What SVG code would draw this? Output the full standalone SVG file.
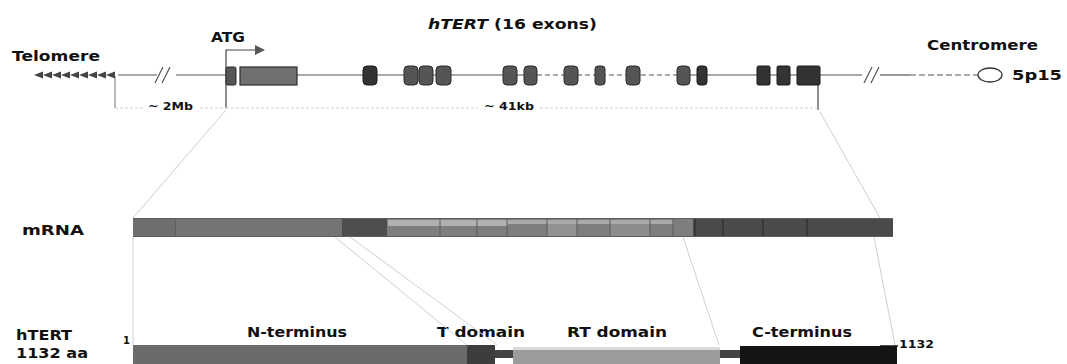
<svg xmlns="http://www.w3.org/2000/svg" width="1067" height="364" viewBox="0 0 1067 364">
<style>
text{font-family:"DejaVu Sans","Liberation Sans",Arial,sans-serif;font-weight:bold;fill:#111}
.lbl{font-size:13.5px}
.sm{font-size:10px}
.faint{stroke:#cfcfcf;stroke-width:1;fill:none}
.gl{stroke:#555;stroke-width:1.2;fill:none}
.ex{fill:#555;stroke:#2a2a2a;stroke-width:1}
.exd{fill:#333;stroke:#1a1a1a;stroke-width:1}
</style>
<defs>
<polygon id="tri" points="0,0 9,-3.5 9,3.5" fill="#444"/>
</defs>
<rect width="1067" height="364" fill="#fff"/>

<g id="labels">
<text class="lbl" x="12" y="61" textLength="88" lengthAdjust="spacingAndGlyphs">Telomere</text>
<text class="lbl" x="211" y="42" textLength="34" lengthAdjust="spacingAndGlyphs">ATG</text>
<text class="lbl" x="428" y="29" textLength="169" lengthAdjust="spacingAndGlyphs"><tspan font-style="italic">hTERT</tspan> (16 exons)</text>
<text class="lbl" x="927" y="50" textLength="111" lengthAdjust="spacingAndGlyphs">Centromere</text>
<text class="lbl" x="1012" y="80" textLength="50" lengthAdjust="spacingAndGlyphs">5p15</text>
<text class="sm" x="148" y="110" textLength="45" lengthAdjust="spacingAndGlyphs">~ 2Mb</text>
<text class="sm" x="484" y="110" textLength="50" lengthAdjust="spacingAndGlyphs">~ 41kb</text>
<text class="lbl" x="22" y="235" textLength="62" lengthAdjust="spacingAndGlyphs">mRNA</text>
<text class="lbl" x="16" y="340" textLength="56" lengthAdjust="spacingAndGlyphs">hTERT</text>
<text class="lbl" x="16" y="358" textLength="72" lengthAdjust="spacingAndGlyphs">1132 aa</text>
<text class="sm" x="123" y="344">1</text>
<text class="lbl" x="247" y="337" textLength="100" lengthAdjust="spacingAndGlyphs">N-terminus</text>
<text class="lbl" x="437" y="337" textLength="88" lengthAdjust="spacingAndGlyphs">T domain</text>
<text class="lbl" x="567" y="337" textLength="100" lengthAdjust="spacingAndGlyphs">RT domain</text>
<text class="lbl" x="752" y="337" textLength="100" lengthAdjust="spacingAndGlyphs">C-terminus</text>
<text class="sm" x="899" y="348" font-size="11.5" textLength="35" lengthAdjust="spacingAndGlyphs">1132</text>
</g>

<g id="connectors">
<line class="gl" x1="118" y1="75" x2="157" y2="75"/>
<line class="gl" x1="176" y1="75" x2="226" y2="75"/>
<line class="gl" x1="297" y1="75" x2="537" y2="75"/>
<line class="gl" x1="537" y1="75" x2="677" y2="75" stroke-dasharray="5,3"/>
<line class="gl" x1="677" y1="75" x2="862" y2="75"/>
<line class="gl" x1="880" y1="75" x2="910" y2="75"/>
<line class="gl" x1="910" y1="75" x2="978" y2="75" stroke-dasharray="6,3"/>
<path class="gl" d="M155,83 L163,67 M162,83 L170,67"/>
<path class="gl" d="M864,83 L872,67 M871,83 L879,67"/>
<path d="M226,108 L226,50 L256,50" stroke="#444" stroke-width="1.2" fill="none"/>
<polygon points="255,45 265,50 255,55" fill="#555"/>
<line x1="115" y1="76" x2="115" y2="108" stroke="#777" stroke-width="1"/>
<line x1="818" y1="85" x2="818" y2="110" stroke="#444" stroke-width="1.2"/>
<path class="faint" d="M115,108 L143,108 M200,108 L226,108 M226,108 L478,108 M540,108 L818,108" stroke-dasharray="3,2"/>
<line class="faint" x1="226" y1="110" x2="133" y2="218"/>
<line class="faint" x1="820" y1="112" x2="880" y2="218"/>
<line class="faint" x1="133" y1="237" x2="133" y2="345"/>
<line class="faint" x1="335" y1="237" x2="467" y2="345"/>
<line class="faint" x1="350" y1="237" x2="497" y2="345"/>
<line class="faint" x1="683" y1="237" x2="719" y2="345"/>
<line class="faint" x1="874" y1="237" x2="895" y2="345"/>
</g>

<g id="telomere">
<use href="#tri" x="34" y="75"/>
<use href="#tri" x="43" y="75"/>
<use href="#tri" x="52" y="75"/>
<use href="#tri" x="61" y="75"/>
<use href="#tri" x="70" y="75"/>
<use href="#tri" x="79" y="75"/>
<use href="#tri" x="88" y="75"/>
<use href="#tri" x="97" y="75"/>
<use href="#tri" x="106" y="75"/>
</g>

<g id="centromere">
<ellipse cx="990" cy="75" rx="12" ry="7" fill="#fff" stroke="#333" stroke-width="1.3"/>
</g>

<g id="exons">
<rect class="ex" x="226" y="67" width="10" height="18" rx="1.5"/>
<rect x="240" y="67" width="57" height="18" fill="#707070" stroke="#2a2a2a" stroke-width="1.2"/>
<rect class="exd" x="363" y="66" width="14" height="19" rx="4"/>
<rect class="ex" x="404" y="66" width="14" height="19" rx="4"/>
<rect class="ex" x="419" y="66" width="14" height="19" rx="4"/>
<rect class="ex" x="436" y="66" width="15" height="19" rx="4"/>
<rect class="ex" x="503" y="66" width="14" height="19" rx="4"/>
<rect class="ex" x="524" y="66" width="13" height="19" rx="4"/>
<rect class="ex" x="564" y="66" width="14" height="19" rx="4"/>
<rect class="ex" x="595" y="66" width="10" height="19" rx="3"/>
<rect class="ex" x="626" y="66" width="14" height="19" rx="4"/>
<rect class="ex" x="677" y="66" width="13" height="19" rx="4"/>
<rect class="exd" x="697" y="66" width="10" height="19" rx="3"/>
<rect class="exd" x="757" y="66" width="13" height="19" rx="1.5"/>
<rect class="exd" x="777" y="66" width="13" height="19" rx="1.5"/>
<rect class="exd" x="797" y="66" width="23" height="19" rx="1.5"/>
</g>

<g id="mrna">
<rect x="133" y="218" width="760" height="19" fill="#5f5f5f"/>
<rect x="133" y="219" width="42" height="17" fill="#6e6e6e"/>
<rect x="176" y="219" width="166" height="17" fill="#747474"/>
<rect x="342" y="219" width="45" height="17" fill="#4e4e4e"/>
<rect x="387" y="219" width="306" height="17" fill="#7e7e7e"/>
<rect x="388" y="220" width="120" height="6" fill="#c8c8c8" opacity="0.7"/>
<rect x="508" y="220" width="165" height="4" fill="#bdbdbd" opacity="0.7"/>
<rect x="547" y="224" width="30" height="12" fill="#929292"/>
<rect x="610" y="224" width="40" height="12" fill="#8c8c8c"/>
<path d="M440,219 V236 M477,219 V236 M507,219 V236 M547,219 V236 M577,219 V236 M610,219 V236 M650,219 V236 M673,219 V236" stroke="#5a5a5a" stroke-width="1"/>
<rect x="693" y="219" width="200" height="17" fill="#4a4a4a"/>
<path d="M695,219 V236 M723,219 V236 M763,219 V236 M807,219 V236" stroke="#333" stroke-width="1.5"/>
</g>

<g id="protein">
<rect x="133" y="345" width="334" height="19" fill="#6b6b6b"/>
<rect x="467" y="345" width="28" height="19" fill="#3d3d3d"/>
<rect x="495" y="350" width="18" height="8" fill="#444"/>
<rect x="513" y="347" width="207" height="17" fill="#9b9b9b"/>
<rect x="513" y="347" width="207" height="3" fill="#dadada"/>
<rect x="720" y="350" width="20" height="8" fill="#444"/>
<rect x="740" y="346" width="157" height="18" fill="#141414"/>
<line x1="880" y1="346" x2="898" y2="346" stroke="#141414" stroke-width="1.5"/>
</g>
</svg>
